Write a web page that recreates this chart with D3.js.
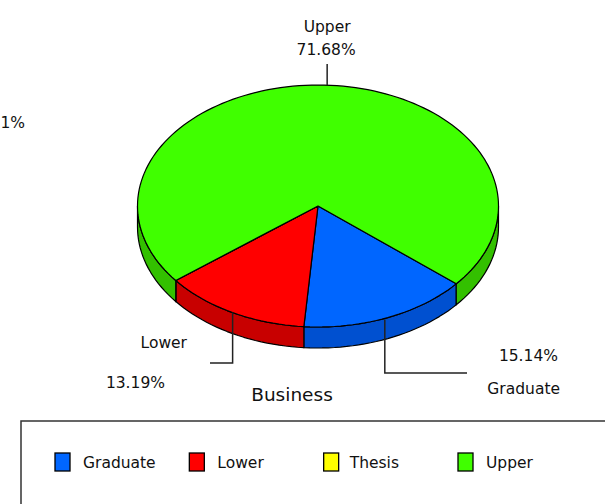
<!DOCTYPE html>
<html>
<head>
<meta charset="utf-8">
<style>
  body { margin: 0; background: #fff; }
  text { font-family: "DejaVu Sans", sans-serif; fill: #111; }
</style>
</head>
<body>

<script src="https://cdn.jsdelivr.net/npm/d3@7"></script>

<script>

const categories = ['Graduate', 'Lower', 'Thesis', 'Upper'];
const values = [15.14, 13.19, 0.01, 71.68];
const topColors = ['#0066ff', '#ff0000', '#ffff00', '#40ff00'];
const sideColors = ['#0050d0', '#c80000', '#c8c800', '#33c000'];
const title = 'Business';

const width = 605;
const height = 504;

const cx = 318, cy = 206, rx = 180.5, ry = 121, depth = 21;

const svg = d3.select('body')
              .append('svg')
              .attr('width', width)
              .attr('height', height);

const deg = Math.PI / 180;
const pie = d3.pie().sort(null).value(d => d)
              .startAngle(130 * deg).endAngle(490 * deg);
const arcs = pie(values);

// point on the ellipse for a d3 angle (clockwise from 12 o'clock)
const pt = (a, dy = 0) => [cx + rx * Math.sin(a), cy - ry * Math.cos(a) + dy];

function arcPath(a0, a1, dy) {
  const steps = Math.max(2, Math.ceil((a1 - a0) / (2 * deg)));
  const pts = d3.range(steps + 1).map(i => pt(a0 + (a1 - a0) * i / steps, dy));
  return pts;
}

// outer walls, only the front half (90deg..270deg) shows
const sides = svg.append('g');
arcs.forEach((d, i) => {
  [[90, 270], [450, 630]].forEach(([lo, hi]) => {
    const a0 = Math.max(d.startAngle, lo * deg);
    const a1 = Math.min(d.endAngle, hi * deg);
    if (a1 - a0 <= 0.0001) return;
    const topPts = arcPath(a0, a1, 0);
    const botPts = arcPath(a0, a1, depth).reverse();
    sides.append('path')
      .attr('d', d3.line()(topPts.concat(botPts)) + 'Z')
      .attr('fill', sideColors[i])
      .attr('stroke', '#000')
      .attr('stroke-width', 1.2)
      .attr('stroke-linejoin', 'round');
  });
});

// top faces
const tops = svg.append('g');
arcs.forEach((d, i) => {
  const pts = [[cx, cy]].concat(arcPath(d.startAngle, d.endAngle, 0));
  tops.append('path')
    .attr('d', d3.line()(pts) + 'Z')
    .attr('fill', topColors[i])
    .attr('stroke', '#000')
    .attr('stroke-width', 1.2)
    .attr('stroke-linejoin', 'round');
});

const fmt = v => v.toFixed(2) + '%';
const labels = svg.append('g').attr('font-size', 15.5);
const lead = svg.append('g').attr('stroke', '#222').attr('stroke-width', 1.5).attr('fill', 'none');

arcs.forEach((d, i) => {
  const mid = (d.startAngle + d.endAngle) / 2;
  const [x, y] = pt(mid);
  const name = categories[i];
  if (name === 'Upper') {
    lead.append('path').attr('d', d3.line()([[x + 6, y], [x + 6, 64]]));
    labels.append('text').attr('x', x + 6).attr('y', 32).attr('text-anchor', 'middle').text(name);
    labels.append('text').attr('x', x + 5).attr('y', 55).attr('text-anchor', 'middle').text(fmt(values[i]));
  } else if (name === 'Lower') {
    lead.append('path').attr('d', d3.line()([[x, y], [x, 363], [210, 363]]));
    labels.append('text').attr('x', 187).attr('y', 348).attr('text-anchor', 'end').text(name);
    labels.append('text').attr('x', 165).attr('y', 388).attr('text-anchor', 'end').text(fmt(values[i]));
  } else if (name === 'Graduate') {
    lead.append('path').attr('d', d3.line()([[x - 3, y + 2], [x - 3, 373], [467, 373]]));
    labels.append('text').attr('x', 558).attr('y', 361).attr('text-anchor', 'end').text(fmt(values[i]));
    labels.append('text').attr('x', 560).attr('y', 394).attr('text-anchor', 'end').text(name);
  } else {
    labels.append('text').attr('x', -4).attr('y', 88).attr('text-anchor', 'end').text(name);
    labels.append('text').attr('x', 25).attr('y', 128).attr('text-anchor', 'end').text(fmt(values[i]));
  }
});

svg.append('text')
  .attr('x', 292).attr('y', 401)
  .attr('text-anchor', 'middle')
  .attr('font-size', 18.5)
  .text(title);

// legend
svg.append('rect')
  .attr('x', 21).attr('y', 421)
  .attr('width', 700).attr('height', 200)
  .attr('fill', '#fff')
  .attr('stroke', '#333')
  .attr('stroke-width', 1.5);

const legendX = d3.scalePoint().domain(categories).range([55, 458]);
const item = svg.append('g').selectAll('g')
  .data(categories)
  .enter()
  .append('g')
    .attr('transform', d => `translate(${legendX(d)},453)`);

item.append('rect')
  .attr('width', 15).attr('height', 18)
  .attr('fill', (d, i) => topColors[i])
  .attr('stroke', '#000')
  .attr('stroke-width', 1.3);

item.append('text')
  .attr('x', (d, i) => i === 2 ? 26 : 28)
  .attr('y', 15)
  .attr('font-size', 15.5)
  .text(d => d);

</script>
</body>
</html>
